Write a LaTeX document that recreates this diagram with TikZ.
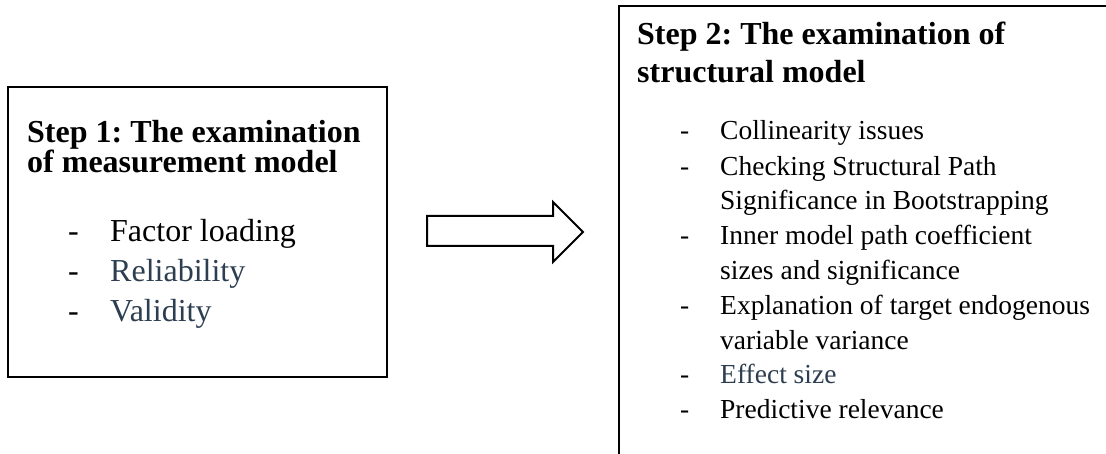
\documentclass[tikz,border=0pt]{standalone}
\usepackage{fontspec}
\setmainfont{Liberation Serif}
\frenchspacing
\definecolor{slate}{RGB}{44,62,80}
\tikzset{
  boxframe/.style={draw=black, line width=2pt},
  ttl/.style={anchor=base west, inner sep=0pt, font=\fontsize{32}{32}\selectfont\bfseries},
  itema/.style={anchor=base west, inner sep=0pt, font=\fontsize{32}{32}\selectfont},
  itemb/.style={anchor=base west, inner sep=0pt, font=\fontsize{27.5}{27.5}\selectfont},
  blockarrow/.style={draw=black, line width=2pt, fill=white, line join=miter}
}
\begin{document}
\begin{tikzpicture}[x=1pt,y=-1pt]
\useasboundingbox (0,0) rectangle (1106,454);
% Box 1
\draw[boxframe] (8,87) rectangle (387,377);
\node[ttl] (t1a) at (27,143) {Step 1: The examination};
\node[ttl] (t1b) at (27,173) {of measurement model};
\node[itema] (d1) at (68,242) {-};
\node[itema] (i1) at (110,242) {Factor loading};
\node[itema] (d2) at (68,282) {-};
\node[itema, text=slate] (i2) at (110,282) {Reliability};
\node[itema] (d3) at (68,322) {-};
\node[itema, text=slate] (i3) at (110,322) {Validity};
% Arrow
\coordinate (a1) at (427,216);
\draw[blockarrow] (a1) -- (553,216) -- (553,202) -- (583,232) -- (553,262) -- (553,246) -- (427,246) -- cycle;
% Box 2 (extends beyond the picture)
\begin{scope}
\clip (0,0) rectangle (1106,454);
\draw[boxframe] (619,6) rectangle (1120,470);
\end{scope}
\node[ttl] (t2a) at (637,45) {Step 2: The examination of};
\node[ttl] (t2b) at (637,83) {structural model};
\foreach \y/\nm in {140/e1,176/e2,245/e3,315/e4,383/e5,418/e6}{
  \node[itemb] (\nm) at (680,\y) {-};
}
\node[itemb] (j1) at (720,140) {Collinearity issues};
\node[itemb] (j2) at (720,176) {Checking Structural Path};
\node[itemb] (j2b) at (720,210) {Significance in Bootstrapping};
\node[itemb] (j3) at (720,245) {Inner model path coefficient};
\node[itemb] (j3b) at (720,280) {sizes and significance};
\node[itemb] (j4) at (720,315) {Explanation of target endogenous};
\node[itemb] (j4b) at (720,349) {variable variance};
\node[itemb, text=slate] (j5) at (720,383) {Effect size};
\node[itemb] (j6) at (720,418) {Predictive relevance};
\end{tikzpicture}
\end{document}
